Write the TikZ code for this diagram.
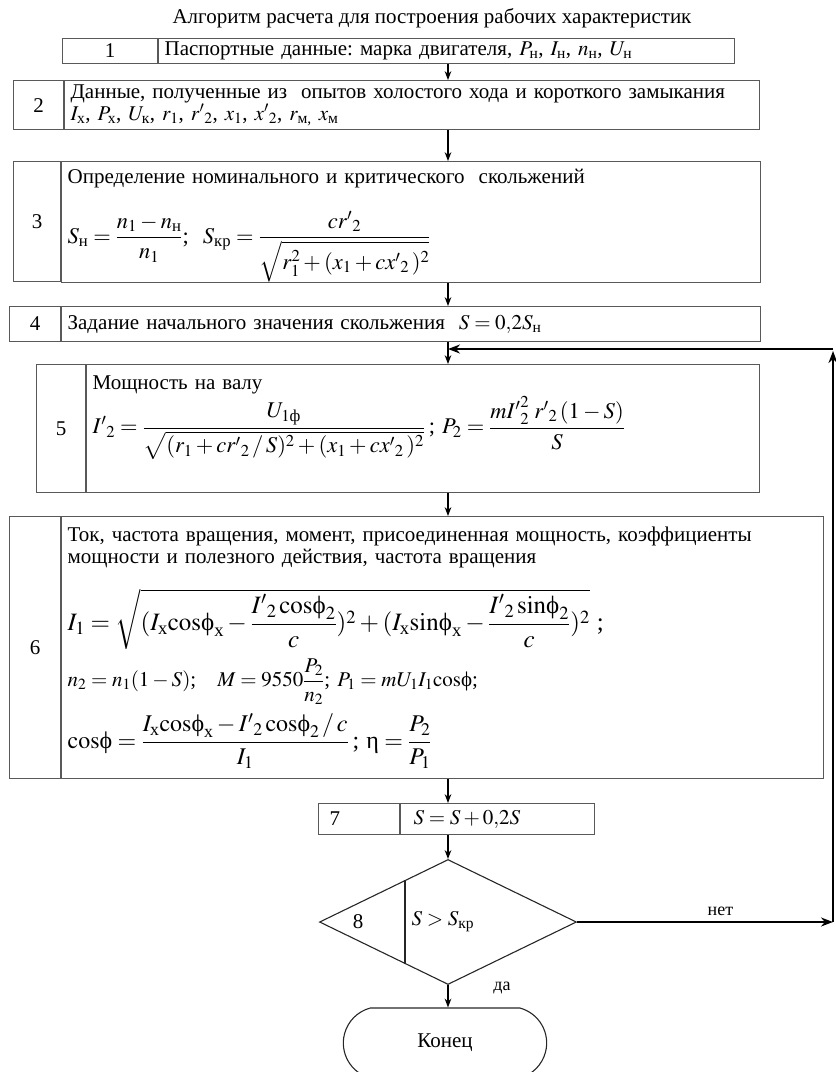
\documentclass[tikz,border=0pt]{standalone}
\usepackage{amsmath}
\usepackage{mathptmx}
\usepackage[no-math]{fontspec}
\setmainfont{Liberation Serif}
\usetikzlibrary{arrows.meta,positioning,shapes.geometric,shapes.misc,calc}

\newcommand{\fii}{\text{ϕ}}
\newcommand{\etaup}{\text{η}}
\newcommand{\fsz}[1]{\fontsize{#1}{#1}\selectfont}
\frenchspacing

\begin{document}
\begin{tikzpicture}[x=1pt, y=-1pt, >=Stealth,
    font=\fontsize{21}{22}\selectfont,
    cell/.style={draw=black!65, line width=1.1pt, anchor=north west, inner sep=0pt},
    num/.style={cell, align=center},
    body/.style={cell, align=left, inner xsep=6pt},
    flow/.style={->, line width=1.3pt},
    back/.style={->, line width=2pt},
    small/.style={font=\fontsize{18}{20}\selectfont}]

    \useasboundingbox (0,0) rectangle (836,1072);

    % Заголовок
    \node (title) at (432,18) {Алгоритм расчета для построения рабочих характеристик};

    % Блоки 1--6
    \node[num, minimum width=95, minimum height=25] (n1) at (62,38) {1};
    \node[body, text width=564, minimum height=25] (b1) at (n1.north east)
        {Паспортные данные: марка двигателя, $P_\text{н}$, $I_\text{н}$, $n_\text{н}$, $U_\text{н}$};

    \node[num, minimum width=50, minimum height=49] (n2) at (13,80) {2};
    \node[body, text width=683, minimum height=49] (b2) at (n2.north east)
        {Данные, полученные из\ \ опытов холостого хода и короткого замыкания\\
         $I_\text{х}$, $P_\text{х}$, $U_\text{к}$, $r_1$, ${r'}_2$, $x_1$, ${x'}_2$, $r_{\text{м,}}$ $x_\text{м}$};

    \node[num, minimum width=47, minimum height=120] (n3) at (13,161) {3};
    \node[body, text width=687, minimum height=120] (b3) at (n3.north east)
        {\rule{0pt}{22pt}Определение номинального и критического\ \ скольжений\\[22pt]
         {\fsz{22.5}$S_\text{н} = \dfrac{n_1 - n_\text{н}}{n_1}$;\ \ $S_\text{кр} = \dfrac{c{r'}_2}{\sqrt{r_1^2 + (x_1 + c{x'}_2\,)^2}}$}};

    \node[num, minimum width=51, minimum height=35] (n4) at (9,306) {4};
    \node[body, text width=687, minimum height=35] (b4) at (n4.north east)
        {Задание начального значения скольжения\ \ $S = 0{,}2S_\text{н}$};

    \node[num, minimum width=49, minimum height=128] (n5) at (36,364) {5};
    \node[body, text width=661, minimum height=128] (b5) at (n5.north east)
        {Мощность на валу\\[2pt]
         {\fsz{22.5}${I'}_2 = \dfrac{U_{1\text{ф}}}{\sqrt{(r_1 + c{r'}_2\,/\,S)^2 + (x_1 + c{x'}_2\,)^2}}$\,; $P_2 = \dfrac{m{I'}_2^2\;{r'}_2\,(1 - S)}{S}$}\rule[-48pt]{0pt}{0pt}};

    \node[num, minimum width=51, minimum height=262] (n6) at (9,516) {6};
    \node[body, text width=750, minimum height=262] (b6) at (n6.north east)
        {Ток, частота вращения, момент, присоединенная мощность, коэффициенты\\
         мощности и полезного действия, частота вращения\\[20pt]
         {\fsz{25}$I_1 = \sqrt{(I_\text{х}\mathrm{cos}\fii_\text{х} - \dfrac{{I'}_2\,\mathrm{cos}\fii_2}{c})^2 + (I_\text{х}\mathrm{sin}\fii_\text{х} - \dfrac{{I'}_2\,\mathrm{sin}\fii_2}{c})^2}$\ ;}\\[8pt]
         $n_2 = n_1(1 - S)$;\quad $M = 9550\dfrac{P_2}{n_2}$; $P_1 = mU_1I_1\mathrm{cos}\fii$;\\[8pt]
         {\fsz{24}$\mathrm{cos}\fii = \dfrac{I_\text{х}\mathrm{cos}\fii_\text{х} - {I'}_2\,\mathrm{cos}\fii_2\,/\,c}{I_1}$\,; $\etaup = \dfrac{P_2}{P_1}$}};

    % Блок 7
    \node[cell, minimum height=31, text width=59, inner xsep=11, align=left] (n7) at (318,803) {7};
    \node[body, text width=168, inner xsep=13, minimum height=31] (b7) at (n7.north east) {$S = S + 0{,}2S$};

    % Условие 8
    \node[diamond, draw=black!85, line width=1.1pt, minimum width=257, minimum height=125, inner sep=0pt] (d8) at (448,922) {};
    \draw[black!85, line width=1.1pt] ($(d8.west)!0.667!(d8.north)$) -- ($(d8.west)!0.667!(d8.south)$);
    \node (l8) at (358,922) {8};
    \node[anchor=west] (c8) at (408,922) {$S > S_\text{кр}$};

    % Конец
    \node[rounded rectangle, rounded rectangle arc length=150, draw=black!85, line width=1.1pt,
          minimum width=210, minimum height=70] (end) at (445,1043) {Конец};

    % Стрелки
    \coordinate (axis) at (448,0);
    \coordinate (corner) at (833,349);
    \draw[flow] (b1.south -| axis) -- (b2.north -| axis);
    \draw[flow] (b2.south -| axis) -- (b3.north -| axis);
    \draw[flow] (b3.south -| axis) -- (b4.north -| axis);
    \draw[flow] (b4.south -| axis) -- (b5.north -| axis);
    \draw[flow] (b5.south -| axis) -- (b6.north -| axis);
    \draw[flow] (b6.south -| axis) -- (b7.north -| axis);
    \draw[flow] (b7.south -| axis) -- (d8.north);
    \draw[flow] (d8.south) -- (end.north -| axis);
    \node[small] (yes) at (502,988) {да};

    % Возврат к блоку 5
    \draw[back] (d8.east) -- (d8.east -| corner) node[small, pos=0.56, above=2pt] (no) {нет};
    \draw[back] (d8.east -| corner) -- ($(corner)+(0,2)$);
    \draw[back] (corner) -- (corner -| axis);
\end{tikzpicture}
\end{document}
